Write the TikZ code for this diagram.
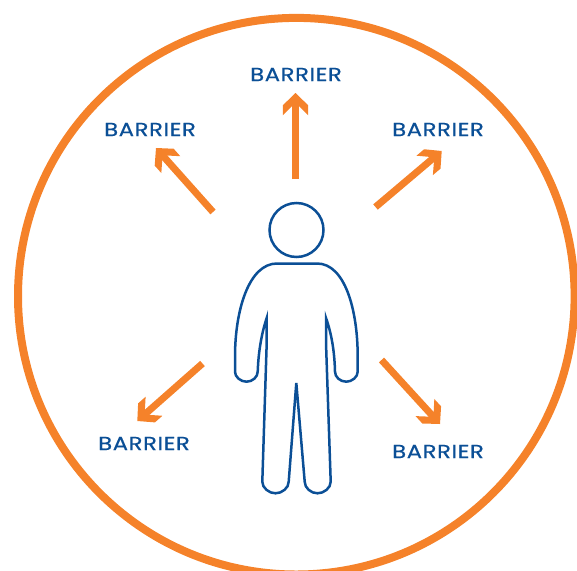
\documentclass[tikz,border=0pt]{standalone}
\usepackage{fontspec}
\setmainfont{Poppins}[FakeStretch=1.2, FakeBold=0.5, LetterSpace=3]
\usetikzlibrary{arrows.meta, positioning}

\definecolor{barrierorange}{HTML}{F5822A}
\definecolor{barrierblue}{HTML}{0B4F96}

\pgfdeclarearrow{
    name=Chevron,
    setup code={
        \pgfarrowssettipend{0pt}
        \pgfarrowssetlineend{-6pt}
        \pgfarrowssetvisualbackend{-22.3pt}
        \pgfarrowssetbackend{-22.3pt}
    },
    drawing code={
        \pgfpathmoveto{\pgfpoint{0pt}{0pt}}
        \pgfpathlineto{\pgfpoint{-12.3pt}{12.7pt}}
        \pgfpathlineto{\pgfpoint{-22.3pt}{12.7pt}}
        \pgfpathlineto{\pgfpoint{-13pt}{3.3pt}}
        \pgfpathlineto{\pgfpoint{-13pt}{-3.3pt}}
        \pgfpathlineto{\pgfpoint{-22.3pt}{-12.7pt}}
        \pgfpathlineto{\pgfpoint{-12.3pt}{-12.7pt}}
        \pgfpathclose
        \pgfusepathqfill
    }
}

\tikzset{
    barrier/.style={text=barrierblue, font=\fontsize{19}{20}\selectfont, inner sep=0pt},
    push/.style={color=barrierorange, line width=7pt, -Chevron},
    outline/.style={draw=barrierblue, line width=2.5pt, line join=miter}
}

\begin{document}
\begin{tikzpicture}[x=1pt, y=-1pt]

\useasboundingbox (0,0) rectangle (577,570);

\begin{scope}
    \clip (0,0) rectangle (577,570);
    \draw[draw=barrierorange, line width=8pt] (296.3,296.2) circle (278.3);
\end{scope}

\node[barrier] (top) at (296,74.5) {BARRIER};
\node[barrier] (upleft) at (150,129.5) {BARRIER};
\node[barrier] (upright) at (438,129.5) {BARRIER};
\node[barrier] (lowleft) at (144,443.5) {BARRIER};
\node[barrier] (lowright) at (438,451.5) {BARRIER};

\coordinate (top-from) at (295.5,179);
\coordinate (top-to) at (295.5,93);
\coordinate (upleft-from) at (213,212);
\coordinate (upleft-to) at (156,148);
\coordinate (upright-from) at (375.5,207);
\coordinate (upright-to) at (441.7,151);
\coordinate (lowleft-from) at (202.5,363.5);
\coordinate (lowleft-to) at (137.3,421);
\coordinate (lowright-from) at (381.5,360);
\coordinate (lowright-to) at (440,424);

\draw[push] (top-from) -- (top-to);
\draw[push] (upleft-from) -- (upleft-to);
\draw[push] (upright-from) -- (upright-to);
\draw[push] (lowleft-from) -- (lowleft-to);
\draw[push] (lowright-from) -- (lowright-to);

\node[outline, circle, minimum size=54pt, inner sep=0pt] (head) at (296.5,230) {};

% body, clockwise from the left shoulder
\draw[outline] (277,263.5) -- (317,263.5)
    .. controls (345,263.5) and (357.7,310) .. (357.7,356.7) -- (357.7,371.7)
    .. controls (357.7,377) and (352,381.7) .. (346.3,381.7)
    .. controls (340,381.7) and (335,377) .. (335,371.7)
    .. controls (334.5,350) and (331,332) .. (326,318)
    -- (326,343) -- (330.7,481.7)
    .. controls (330.7,488) and (324,493.3) .. (317.5,493.3)
    .. controls (311,493.3) and (304.7,488) .. (304.7,481.7)
    -- (296.3,383) -- (288.7,481.7)
    .. controls (288.7,488) and (282,493.3) .. (275.5,493.3)
    .. controls (269,493.3) and (262.3,488) .. (262.3,481.7)
    -- (266.7,343) -- (266.7,318)
    .. controls (262,332) and (258.5,350) .. (257.7,371.7)
    .. controls (257.7,377) and (252.5,381.7) .. (246.5,381.7)
    .. controls (240.5,381.7) and (235,377) .. (235,371.7)
    -- (235,356.7)
    .. controls (235,310) and (249,263.5) .. (277,263.5) -- cycle;

\end{tikzpicture}
\end{document}
